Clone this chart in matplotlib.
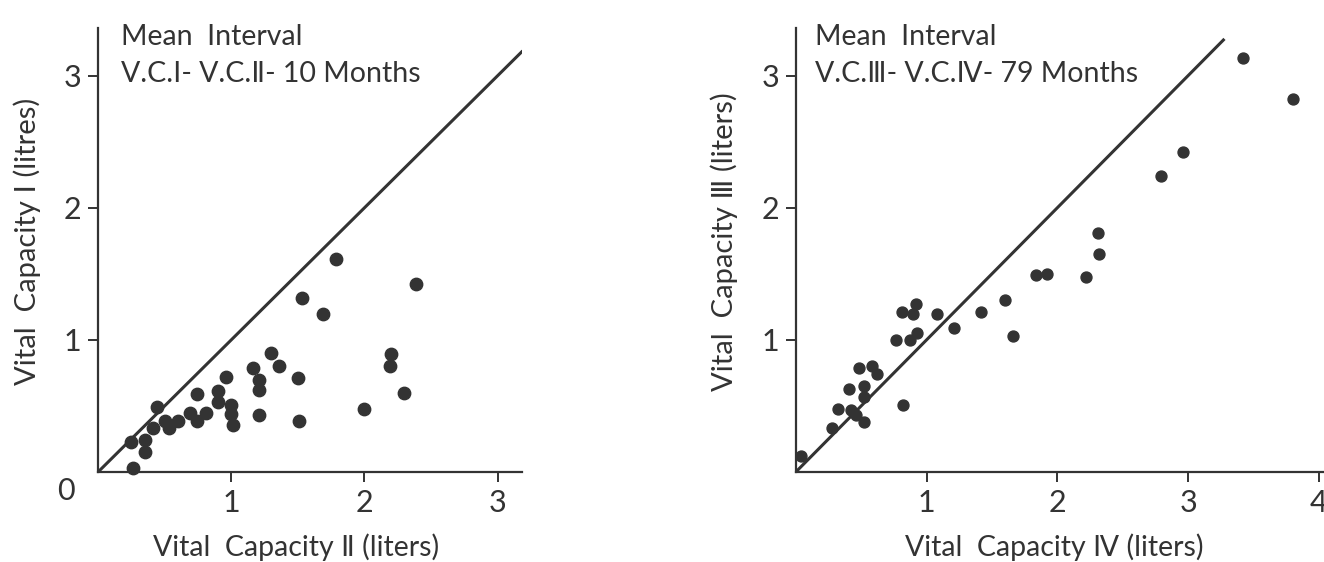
import matplotlib
matplotlib.use("Agg")
import matplotlib.pyplot as plt

plt.rcParams['font.family'] = ['Lato', 'DejaVu Sans']

# left panel: V.C. II (x) vs V.C. I (y), litres
vc2 = [1.79, 2.39, 1.53, 1.69, 1.30, 1.36, 1.16, 2.20, 2.19, 1.50, 0.96, 1.21,
       1.21, 0.90, 0.90, 0.74, 1.00, 1.00, 1.01, 2.30, 2.00, 1.21, 1.51, 0.81,
       0.69, 0.74, 0.60, 0.44, 0.50, 0.53, 0.41, 0.35, 0.25, 0.35, 0.26]
vc1 = [1.61, 1.42, 1.32, 1.20, 0.90, 0.80, 0.79, 0.89, 0.80, 0.71, 0.72, 0.70,
       0.62, 0.61, 0.53, 0.59, 0.51, 0.44, 0.36, 0.60, 0.48, 0.43, 0.39, 0.45,
       0.45, 0.39, 0.39, 0.49, 0.39, 0.33, 0.33, 0.24, 0.23, 0.15, 0.03]

# right panel: V.C. IV (x) vs V.C. III (y)
vc4 = [0.04, 0.28, 0.32, 0.42, 0.46, 0.52, 0.41, 0.52, 0.52, 0.48, 0.58, 0.62,
       0.82, 0.77, 0.87, 0.93, 0.81, 0.90, 0.92, 1.08, 1.21, 1.42, 1.60, 1.66,
       1.84, 1.92, 2.22, 2.31, 2.32, 2.79, 2.96, 3.42, 3.80]
vc3 = [0.12, 0.33, 0.48, 0.47, 0.43, 0.38, 0.63, 0.65, 0.57, 0.79, 0.80, 0.74,
       0.51, 1.00, 1.00, 1.05, 1.21, 1.20, 1.27, 1.20, 1.09, 1.21, 1.30, 1.03,
       1.49, 1.50, 1.48, 1.81, 1.65, 2.24, 2.42, 3.13, 2.82]

ink = '#333333'

fig = plt.figure(figsize=(13.24, 5.62), dpi=100)
ax1 = fig.add_axes([0.074, 0.160, 0.320, 0.790])
ax2 = fig.add_axes([0.601, 0.160, 0.405, 0.790])


def style(ax, xmax, xticks, yticks):
    ax.set_xlim(0, xmax)
    ax.set_ylim(0, 3.36)
    for s in ['top', 'right']:
        ax.spines[s].set_visible(False)
    for s in ['left', 'bottom']:
        ax.spines[s].set_linewidth(1.6)
        ax.spines[s].set_color(ink)
    ax.set_xticks(xticks)
    ax.set_yticks(yticks)
    ax.tick_params(direction='out', length=7, width=1.4, color=ink,
                   labelsize=22, labelcolor=ink, pad=5)


style(ax1, 3.18, [1, 2, 3], [1, 2, 3])
ax1.plot([0, 3.18], [0, 3.18], color=ink, lw=2.2)
ax1.scatter(vc2, vc1, s=80, color=ink, zorder=3, clip_on=False)
ax1.text(-0.055, -0.01, '0', transform=ax1.transAxes, ha='right', va='top',
         fontsize=22, color=ink)
ax1.set_xlabel('Vital  Capacity Ⅱ (liters)', fontsize=20.5, color=ink)
ax1.set_ylabel('Vital  Capacity Ⅰ (litres)', fontsize=21, color=ink)
ax1.xaxis.set_label_coords(0.467, -0.138)
ax1.yaxis.set_label_coords(-0.135, 0.52)
ax1.text(0.055, 1.01, 'Mean  Interval', transform=ax1.transAxes,
         fontsize=20.5, color=ink, va='top')
ax1.text(0.055, 0.925, 'V.C.Ⅰ- V.C.Ⅱ- 10 Months', transform=ax1.transAxes,
         fontsize=20.5, color=ink, va='top')

style(ax2, 4.1, [1, 2, 3, 4], [1, 2, 3])
ax2.plot([0, 3.27], [0, 3.27], color=ink, lw=2.2)
ax2.scatter(vc4, vc3, s=62, color=ink, zorder=3, clip_on=False)
ax2.set_xlabel('Vital  Capacity Ⅳ (liters)', fontsize=20.5, color=ink)
ax2.set_ylabel('Vital  Capacity Ⅲ (liters)', fontsize=21, color=ink)
ax2.xaxis.set_label_coords(0.483, -0.138)
ax2.yaxis.set_label_coords(-0.108, 0.52)
ax2.text(0.036, 1.01, 'Mean  Interval', transform=ax2.transAxes,
         fontsize=20.5, color=ink, va='top')
ax2.text(0.036, 0.925, 'V.C.Ⅲ- V.C.Ⅳ- 79 Months', transform=ax2.transAxes,
         fontsize=20.5, color=ink, va='top')

fig.savefig('out.png', dpi=100)
